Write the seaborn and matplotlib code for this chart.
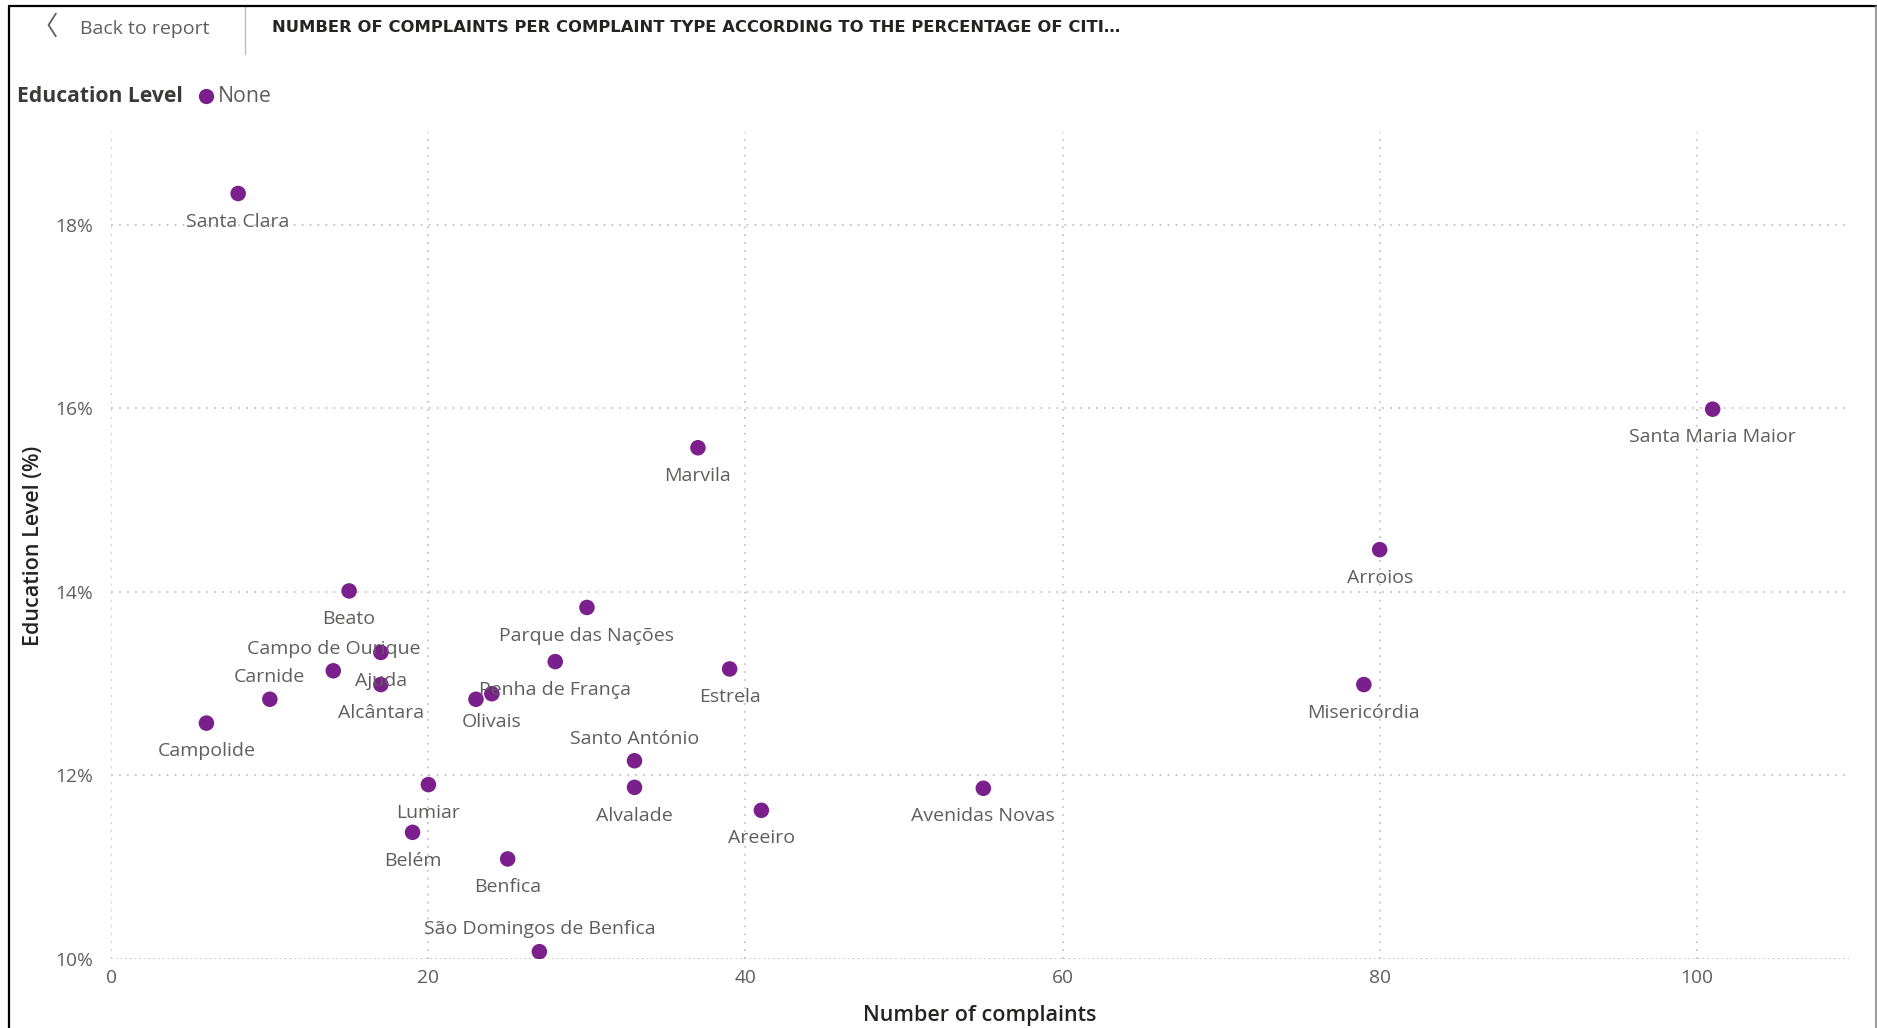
import matplotlib
matplotlib.use("Agg")
import matplotlib.pyplot as plt
from matplotlib.lines import Line2D
from matplotlib.ticker import FuncFormatter
import pandas as pd
import seaborn as sns

# Parishes of Lisbon: complaints received vs. share of citizens with no education
parishes = ["Santa Clara", "Santa Maria Maior", "Marvila", "Arroios", "Misericórdia",
            "Beato", "Parque das Nações", "Campo de Ourique", "Ajuda", "Penha de França",
            "Estrela", "Carnide", "Alcântara", "Olivais", "São Vicente", "Campolide",
            "Santo António", "Lumiar", "Alvalade", "Avenidas Novas", "Areeiro", "Belém",
            "Benfica", "São Domingos de Benfica"]
complaints = [8, 101, 37, 80, 79, 15, 30, 14, 17, 28, 39, 10, 17, 24, 23, 6,
              33, 20, 33, 55, 41, 19, 25, 27]
education_pct = [18.34, 15.99, 15.57, 14.46, 12.99, 14.01, 13.83, 13.14, 13.34, 13.24,
                 13.16, 12.83, 12.99, 12.89, 12.83, 12.57, 12.16, 11.90, 11.87, 11.86,
                 11.62, 11.38, 11.09, 10.08]
# where each data label sits relative to its point ("" = label suppressed)
label_side = ["below", "below", "below", "below", "below", "below", "below", "above",
              "below", "below", "below", "above", "below", "below", "", "below",
              "above", "below", "below", "below", "below", "below", "below", "above"]

x_ticks = [0, 20, 40, 60, 80, 100]
y_ticks = [10, 12, 14, 16, 18]

df = pd.DataFrame({"parish": parishes, "complaints": complaints,
                   "education": education_pct, "side": label_side})

PURPLE = "#7A1F8C"
LABEL_GREY = "#605E5C"
DARK = "#252423"
GRID = "#C8C6C4"

sns.set_theme(style="white")
plt.rcParams["font.family"] = ["Open Sans", "DejaVu Sans"]

W, H = 1877, 1028
fig = plt.figure(figsize=(W / 100, H / 100), dpi=100)
fig.patch.set_facecolor("white")

left, right, top, bottom = 111.3, 1849, 132, 959
ax = fig.add_axes([left / W, 1 - bottom / H, (right - left) / W, (bottom - top) / H])

sns.scatterplot(data=df, x="complaints", y="education", ax=ax, color=PURPLE,
                s=125, edgecolor="none", linewidth=0, legend=False, zorder=3)

ax.set_xlim(0, 109.6)
ax.set_ylim(10, 19.01)
ax.set_xticks(x_ticks)
ax.set_yticks(y_ticks)
ax.yaxis.set_major_formatter(FuncFormatter(lambda v, _: f"{v:.0f}%"))

for s in ax.spines.values():
    s.set_visible(False)
ax.grid(False)
for xv in x_ticks:
    ax.axvline(xv, color=GRID, lw=1.3, ls=(0, (1, 3.4)), zorder=1)
for yv in y_ticks:
    if yv == 10:
        ax.axhline(yv, color=GRID, lw=1.3, ls=(0, (1, 1.6)), zorder=1)
    else:
        ax.axhline(yv, color=GRID, lw=1.3, ls=(0, (1, 3.4)), zorder=1)

ax.tick_params(axis="both", length=0, labelsize=13.8, colors=LABEL_GREY)
ax.tick_params(axis="y", pad=13)
ax.tick_params(axis="x", pad=7)

ax.set_xlabel("Number of complaints", fontsize=15.5, color=DARK, labelpad=13,
              fontweight="semibold")
ax.set_ylabel("Education Level (%)", fontsize=15.5, color=DARK, labelpad=8,
              fontweight="semibold")

for _, r in df.iterrows():
    if not r["side"]:
        continue
    dy = -20.3 if r["side"] == "below" else 16.0
    ax.annotate(r["parish"], (r["complaints"], r["education"]), xytext=(0, dy),
                textcoords="offset points", ha="center", va="center",
                fontsize=14, color=LABEL_GREY, zorder=4)

# header bar
fig.text(45 / W, 1 - 27 / H, "〈", fontsize=19, color=LABEL_GREY, ha="center",
         va="center", family=["Noto Sans CJK SC", "DejaVu Sans"])
fig.text(80 / W, 1 - 29 / H, "Back to report", fontsize=14, color=LABEL_GREY,
         ha="left", va="center")
fig.add_artist(Line2D([245 / W, 245 / W], [1 - 6 / H, 1 - 54 / H], color="#BDBDBD",
                      lw=1.0, transform=fig.transFigure))
fig.text(272 / W, 1 - 28 / H,
         "NUMBER OF COMPLAINTS PER COMPLAINT TYPE ACCORDING TO THE PERCENTAGE OF CITI…",
         fontsize=11.75, color=DARK, fontweight="bold", family="DejaVu Sans",
         ha="left", va="center")

# legend
fig.text(17 / W, 1 - 97 / H, "Education Level", fontsize=15.2, color="#3B3A39",
         fontweight="bold", ha="left", va="center")
fig.add_artist(Line2D([206 / W], [1 - 96 / H], marker="o", markersize=11,
                      color=PURPLE, markeredgewidth=0, transform=fig.transFigure))
fig.text(218 / W, 1 - 97 / H, "None", fontsize=15.3, color=LABEL_GREY,
         ha="left", va="center")

# frame of the visual
fig.add_artist(Line2D([9 / W, 1], [1 - 6 / H, 1 - 6 / H], color="black", lw=1.6,
                      transform=fig.transFigure))
fig.add_artist(Line2D([9 / W, 9 / W], [0, 1 - 6 / H], color="black", lw=1.6,
                      transform=fig.transFigure))
fig.add_artist(Line2D([1875.5 / W, 1875.5 / W], [0, 1 - 6 / H], color="#8A8A8A",
                      lw=1.2, transform=fig.transFigure))

fig.savefig("out.png", dpi=100, facecolor="white")
